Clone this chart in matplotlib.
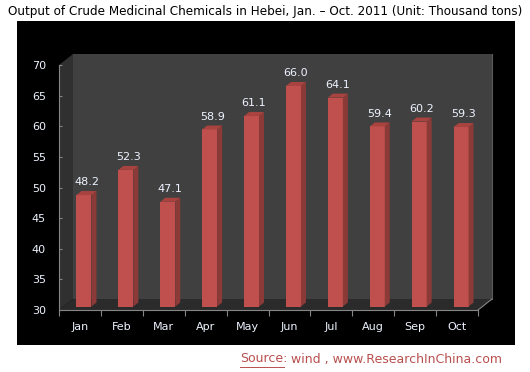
import matplotlib
matplotlib.use("Agg")
import matplotlib.pyplot as plt
from matplotlib.patches import Polygon, Rectangle

months = ["Jan", "Feb", "Mar", "Apr", "May", "Jun", "Jul", "Aug", "Sep", "Oct"]
values = [48.2, 52.3, 47.1, 58.9, 61.1, 66.0, 64.1, 59.4, 60.2, 59.3]
yticks = [30, 35, 40, 45, 50, 55, 60, 65, 70]
title = "Output of Crude Medicinal Chemicals in Hebei, Jan. \u2013 Oct. 2011 (Unit: Thousand tons)"

W, H = 530, 372
fig = plt.figure(figsize=(W / 100, H / 100), dpi=100)
fig.patch.set_facecolor("white")

# black panel
fig.add_artist(Rectangle((17 / W, 1 - 345 / H), (515 - 17) / W, (345 - 21) / H,
                         transform=fig.transFigure, facecolor="black", edgecolor="none", zorder=0))

ax_l, ax_r, ax_t, ax_b = 59, 478, 65, 310
ax = fig.add_axes([ax_l / W, 1 - ax_b / H, (ax_r - ax_l) / W, (ax_b - ax_t) / H])
ax.set_facecolor("none")
ymin, ymax = 30, 70
n = len(months)
ax.set_xlim(-0.5, n - 0.5)
ax.set_ylim(ymin, ymax)

px_x = n / (ax_r - ax_l)
px_y = (ymax - ymin) / (ax_b - ax_t)
Dx, Dy = 14 * px_x, 11 * px_y

x0, x1 = -0.5, n - 0.5
# walls
ax.add_patch(Polygon([(x0, ymin), (x1, ymin), (x1 + Dx, ymin + Dy), (x0 + Dx, ymin + Dy)],
                     closed=True, facecolor="#2b2b2b", edgecolor="none", clip_on=False, zorder=1))
ax.add_patch(Polygon([(x0, ymin), (x0, ymax), (x0 + Dx, ymax + Dy), (x0 + Dx, ymin + Dy)],
                     closed=True, facecolor="#303030", edgecolor="none", clip_on=False, zorder=1))
ax.add_patch(Rectangle((x0 + Dx, ymin + Dy), x1 - x0, ymax - ymin,
                       facecolor="#404040", edgecolor="none", clip_on=False, zorder=1))
ax.plot([x1 + Dx, x1 + Dx], [ymin + Dy, ymax + Dy], color="#5a5a5a", lw=0.8, clip_on=False, zorder=1)
ax.plot([x1, x1 + Dx], [ymin, ymin + Dy], color="#868686", lw=0.8, clip_on=False, zorder=1)

# bars
sx, sy = 4 * px_x, 3.5 * px_y
bw = 15 * px_x
bdx, bdy = 5 * px_x, 4 * px_y
xs = [i + sx for i in range(n)]
bottoms = ymin + sy
ax.bar(xs, [v - ymin for v in values], bottom=bottoms, width=bw, color="#c0504d",
       edgecolor="none", zorder=3, clip_on=False)
for x, v in zip(xs, values):
    top = v + sy
    r = x + bw / 2
    l = x - bw / 2
    ax.add_patch(Polygon([(r, bottoms), (r, top), (r + bdx, top + bdy), (r + bdx, bottoms + bdy)],
                         closed=True, facecolor="#8c3a38", edgecolor="none", clip_on=False, zorder=3))
    ax.add_patch(Polygon([(l, top), (r, top), (r + bdx, top + bdy), (l + bdx, top + bdy)],
                         closed=True, facecolor="#a8433f", edgecolor="none", clip_on=False, zorder=3))
    ax.text(x + bdx / 2, top + bdy + 0.6, f"{v:.1f}", ha="center", va="bottom",
            color="#eef3ff", fontsize=8, zorder=4)

for s in ["top", "right"]:
    ax.spines[s].set_visible(False)
for s in ["left", "bottom"]:
    ax.spines[s].set_color("#868686")
    ax.spines[s].set_linewidth(0.8)
ax.set_yticks(yticks)
ax.set_yticklabels([str(t) for t in yticks])
ax.set_xticks(range(n))
ax.set_xticklabels(months)
ax.set_xticks([i - 0.5 for i in range(n + 1)], minor=True)
ax.tick_params(axis="x", which="major", length=0, colors="#eef3ff", labelsize=8, pad=9)
ax.tick_params(axis="x", which="minor", length=4, color="#868686", width=0.8)
ax.tick_params(axis="y", direction="in", length=2.5, color="#868686", width=0.8,
               labelcolor="#eef3ff", labelsize=8, pad=9.5)

fig.text(8 / W, 1 - 12 / H, title, ha="left", va="center", fontsize=8.65, color="black")

src_color = "#b8504e"
src = fig.text(240 / W, 1 - 359 / H, "Source:", ha="left", va="center", fontsize=9.0, color=src_color)
fig.canvas.draw()
bb = src.get_window_extent(renderer=fig.canvas.get_renderer())
fig.text(bb.x1 / W, 1 - 359 / H, " wind , www.ResearchInChina.com", ha="left", va="center",
         fontsize=9.0, color=src_color)
fig.add_artist(plt.Line2D([240 / W, (bb.x1 - 3) / W], [1 - 366.5 / H, 1 - 366.5 / H], color=src_color,
                          lw=0.7, transform=fig.transFigure))

fig.savefig("out.png", dpi=100, facecolor="white")
